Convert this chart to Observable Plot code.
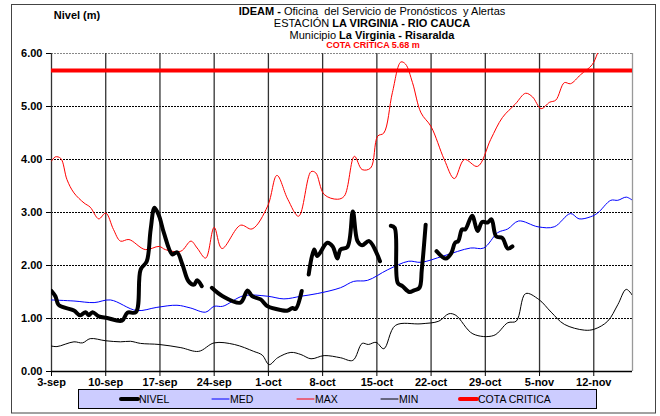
<!DOCTYPE html>
<html><head><meta charset="utf-8">
<script src="https://cdn.jsdelivr.net/npm/d3@7"></script>
<script src="https://cdn.jsdelivr.net/npm/@observablehq/plot@0.6"></script>
<style>body{margin:0;background:#fff;} #chart{width:660px;height:416px;}</style>
</head><body><div id="chart"></div>
<script>
// x = days since 3-sep
const tickDays = [0,7,14,21,28,35,42,49,56,63,70];
const tickLabels = ["3-sep","10-sep","17-sep","24-sep","1-oct","8-oct","15-oct","22-oct","29-oct","5-nov","12-nov"];
const yTicks = [0,1,2,3,4,5,6];
const cotaCritica = 5.68;

const nivelDays = [0,0.5,0.9,1.6,2.9,3.7,4.4,4.8,5.3,6.1,7.2,9.1,9.8,10.9,11.5,12.3,12.8,13.3,13.9,14.5,15.6,16.2,16.9,17.7,18.4,18.8,19.4,
  20,
  20.7,22.1,24.4,25.3,25.9,27,27.9,29.6,30.5,31.1,31.5,32.3,
  32.8,
  33.2,33.9,34.3,35.6,36.3,36.9,37.3,38.2,38.9,39.5,40.1,41,42.4,
  43,
  43.8,44.3,44.7,45.3,46.2,46.8,47.5,47.8,48.3,
  49,
  49.7,50.9,51.6,52.1,52.5,53,53.4,54.3,55,55.6,56.3,56.8,57.4,58.2,58.9,59.5];
const nivelVals = [1.52,1.42,1.26,1.21,1.15,1.06,1.12,1.06,1.12,1.04,1.01,0.96,1.11,1.12,1.92,2.08,2.68,3.09,2.93,2.62,2.21,2.25,2.02,1.70,1.64,1.72,1.61,
  null,
  1.58,1.42,1.30,1.53,1.42,1.36,1.23,1.16,1.15,1.20,1.18,1.52,
  null,
  1.83,2.30,2.18,2.43,2.36,2.13,2.30,2.35,3.02,2.46,2.38,2.46,2.08,
  null,
  2.75,2.71,1.67,1.61,1.50,1.53,1.58,1.92,2.77,
  null,
  2.27,2.13,2.23,2.43,2.46,2.68,2.68,2.94,2.65,2.82,2.81,2.87,2.55,2.52,2.32,2.36];

const medDays = [0,2.9,5.5,7.6,11,13.6,16.2,17.9,19.9,21,22.1,24.8,27.9,30,32.2,34.3,37.3,39,40.8,43.4,46.1,47.7,50.6,54.1,55.8,57.6,58.9,60.3,62.8,64.9,67,68.1,69.6,70.5,72.2,73.1,74.2,75];
const medVals = [1.35,1.33,1.30,1.35,1.15,1.21,1.25,1.20,1.12,1.23,1.23,1.43,1.42,1.37,1.42,1.47,1.58,1.70,1.72,1.92,2.08,2.06,2.18,2.33,2.33,2.62,2.69,2.84,2.73,2.73,2.98,2.88,2.92,2.99,3.23,3.23,3.29,3.23];

const maxDays = [0,0.5,1.2,2,2.9,4.2,5,6.1,7,8,8.9,10,12.1,13.9,14.7,16.7,18,18.8,19.9,21,22,24.4,25.9,27.9,29.1,30.5,31.9,33.5,34.1,35.2,36.9,37.8,39.1,40.1,41.2,42.1,42.9,44,45.1,45.7,46.6,47.7,49,50.7,52,53.3,55,56.7,58.2,59.9,61.2,62.1,63.2,64.3,65.1,66.2,67,68.3,69.8,70.5,71.5,73,75];
const maxVals = [3.97,4.05,4.02,3.62,3.37,3.18,3.10,2.88,2.99,2.68,2.46,2.49,2.30,2.36,2.30,2.27,2.46,2.33,2.14,2.72,2.32,2.76,2.69,3.12,3.70,3.25,2.93,3.77,3.75,3.34,3.25,3.31,4.06,3.81,3.84,4.44,4.50,5.26,5.84,5.80,5.45,4.88,4.62,4.00,3.64,4.00,3.87,4.38,4.79,5.05,5.25,5.18,4.96,5.08,5.12,5.45,5.43,5.60,5.79,6.01,6.40,6.80,7.10];

const minDays = [0,0.7,2.9,4,5,7,8.9,10.2,11.5,13.9,16.7,19,21,23.6,26.1,27.2,28.1,29.2,30.9,32.2,33.5,35.2,37.3,38.9,40.1,40.9,41.9,42.9,44.4,47.7,50,51.3,52.2,54.4,57.1,58.9,60,61.2,62.9,64.5,66.2,68.8,70.1,71.8,73.1,74.2,75.2];
const minVals = [0.48,0.47,0.56,0.54,0.62,0.58,0.56,0.57,0.53,0.51,0.45,0.38,0.54,0.51,0.38,0.31,0.13,0.26,0.36,0.32,0.24,0.30,0.26,0.21,0.53,0.51,0.55,0.43,0.87,0.90,0.95,1.09,1.06,0.71,0.68,0.92,0.95,1.47,1.36,1.12,0.89,0.78,0.80,0.95,1.26,1.55,1.39];

const legendLabels = ["NIVEL","MED","MAX","MIN","COTA CRITICA"];
const legendColors = ["#000000","#0000ff","#ff0000","#000000","#ff0000"];
const legendWidths = [4,1,1,1,4];

const rows = (days, vals) => days.map((d, i) => ({d, v: vals[i]}));
const nivel = rows(nivelDays, nivelVals);
const med = rows(medDays, medVals);
const max = rows(maxDays, maxVals);
const min = rows(minDays, minVals);

const font = "'Liberation Sans', Arial, Helvetica, sans-serif";

const svg = Plot.plot({
  width: 660, height: 416,
  marginLeft: 51, marginRight: 28, marginTop: 53, marginBottom: 45,
  x: {domain: [0, 75]},
  y: {domain: [0, 6]},
  style: {fontFamily: font, background: "white", color: "#000"},
  marks: [
    Plot.ruleY([1,2,3,4,5], {stroke: "#000", strokeWidth: 1, strokeDasharray: "2,1"}),
    Plot.ruleY([6], {stroke: "#888", strokeWidth: 1, strokeDasharray: "2,1"}),
    Plot.ruleX(tickDays, {stroke: "#333", strokeWidth: 1.3}),
    Plot.ruleX([75], {stroke: "#999", strokeWidth: 1.3}),
    Plot.ruleY([0], {stroke: "#000", strokeWidth: 1.3}),
    Plot.line(min, {x: "d", y: "v", stroke: "#000", strokeWidth: 1, curve: "catmull-rom", clip: true}),
    Plot.line(med, {x: "d", y: "v", stroke: "#0000ff", strokeWidth: 1, curve: "catmull-rom", clip: true}),
    Plot.line(max, {x: "d", y: "v", stroke: "#ff0000", strokeWidth: 1, curve: "catmull-rom", clip: true}),
    Plot.ruleY([cotaCritica], {stroke: "#ff0000", strokeWidth: 4}),
    Plot.line(nivel, {x: "d", y: "v", stroke: "#000", strokeWidth: 4, curve: "catmull-rom", clip: true}),
    Plot.axisX(tickDays, {tickFormat: d => tickLabels[tickDays.indexOf(d)], fontSize: 11, fontWeight: "bold", tickSize: 5, tickPadding: 2, label: null}),
    Plot.axisY(yTicks, {tickFormat: d => d.toFixed(2), fontSize: 11, fontWeight: "bold", tickSize: 5, tickPadding: 4, label: null})
  ]
});

const s = d3.select(svg);
// outer border
s.append("rect").attr("x", 11.5).attr("y", 4.5).attr("width", 644).attr("height", 408.5)
  .attr("fill", "none").attr("stroke", "#444").attr("stroke-width", 1);

const t = s.append("g").attr("font-family", font).attr("text-anchor", "middle").attr("fill", "#000");
const l1 = t.append("text").attr("x", 372).attr("y", 14.5).attr("font-size", 11);
l1.append("tspan").attr("font-weight", "bold").text("IDEAM - ");
l1.append("tspan").text("Oficina  del Servicio de Pronósticos  y Alertas");
const l2 = t.append("text").attr("x", 372).attr("y", 26.5).attr("font-size", 11);
l2.append("tspan").text("ESTACIÓN ");
l2.append("tspan").attr("font-weight", "bold").text("LA VIRGINIA - RIO CAUCA");
const l3 = t.append("text").attr("x", 372).attr("y", 38.5).attr("font-size", 11);
l3.append("tspan").text("Municipio ");
l3.append("tspan").attr("font-weight", "bold").text("La Virginia - Risaralda");
t.append("text").attr("x", 373).attr("y", 48).attr("font-size", 9).attr("font-weight", "bold")
  .attr("fill", "#ff0000").text("COTA CRÍTICA 5.68 m");
t.append("text").attr("x", 77).attr("y", 18.5).attr("font-size", 11).attr("font-weight", "bold").text("Nivel (m)");

// legend
const lg = s.append("g").attr("font-family", font).attr("font-size", 10.5).attr("text-anchor", "start");
lg.append("rect").attr("x", 78.5).attr("y", 389.5).attr("width", 518).attr("height", 19)
  .attr("fill", "#ccccff").attr("stroke", "#000");
const swX = [121, 212, 297, 381, 460];
legendLabels.forEach((lab, i) => {
  lg.append("line").attr("x1", swX[i]).attr("x2", swX[i] + 17).attr("y1", 399).attr("y2", 399)
    .attr("stroke", legendColors[i]).attr("stroke-width", legendWidths[i]).attr("stroke-linecap", "round");
  lg.append("text").attr("x", swX[i] + 18).attr("y", 403).attr("fill", "#000").attr("text-anchor", "start").text(lab);
});

document.getElementById("chart").appendChild(svg);
</script>
</body></html>
